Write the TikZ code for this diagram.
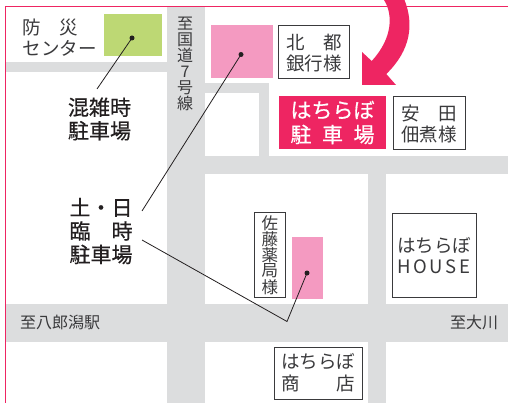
\documentclass[tikz,border=0pt]{standalone}
\usepackage{fontspec}
\setmainfont{Noto Sans CJK JP}
\newfontfamily\heavyf[FakeBold=0.6]{Noto Sans CJK JP}
\definecolor{roadc}{HTML}{DCDDDE}
\definecolor{hotc}{HTML}{EE2562}
\definecolor{lotc}{HTML}{F49AC1}
\definecolor{greenc}{HTML}{BDD874}
\definecolor{inkc}{HTML}{3A3A3C}
\definecolor{blackc}{HTML}{231F20}
\newcommand{\spr}[2]{\makebox[#1pt][s]{#2}}
\tikzset{
  x=1pt,y=-1pt,
  road/.style={fill=roadc,draw=none},
  lot/.style={fill=lotc,draw=none},
  shop/.style={draw=inkc,line width=0.8pt,fill=white,rectangle,inner sep=0pt},
  maptext/.style={text=inkc,inner sep=0pt,align=center,font=\fontsize{18.5}{21}\selectfont},
  bigtext/.style={text=blackc,inner sep=0pt,align=center,font=\heavyf\fontsize{21}{23.5}\selectfont},
  leader/.style={draw=blackc,line width=0.8pt},
  pin/.style={circle,fill=blackc,inner sep=0pt,minimum size=5pt}
}
\begin{document}
\begin{tikzpicture}
\useasboundingbox (0,0) rectangle (508,403);
\fill[white] (0,0) rectangle (508,403);
% roads
\fill[road] (167,7) rectangle (205,403);
\fill[road] (6,62) rectangle (167,72);
\fill[road] (205,83) rectangle (269,93);
\fill[road] (259,93) rectangle (269,156);
\fill[road] (205,156) rectangle (508,174);
\fill[road] (368,174) rectangle (386,403);
\fill[road] (6,304) rectangle (508,342);
% frame
\draw[hotc,line width=0.9pt] (508,6.5) -- (5.5,6.5) -- (5.5,403);
% lots
\fill[greenc] (104,14) rectangle (162,56);
\fill[lot] (211,25) rectangle (273,78);
\fill[lot] (292,237) rectangle (323,299);
% arrow
\fill[hotc] (384,0) .. controls (393,14) and (393,38) .. (371.7,61) -- (362,52) -- (362,85) -- (396,85) -- (386.3,74)
  .. controls (411,50) and (414,24) .. (404.5,0) -- cycle;
% shops
\node[shop,minimum width=71pt,minimum height=53pt] (kita) at (314,52) {};
\node[maptext] at (314,53) {\spr{56}{北\hfil 都}\\銀行様};
\node[fill=hotc,minimum width=107pt,minimum height=53pt,inner sep=0pt] (park) at (332.5,122.5) {};
\node[maptext,text=white,font=\heavyf\fontsize{21}{24.5}\selectfont] at (park.center) {\spr{84}{は\hfil ち\hfil ら\hfil ぼ}\\\spr{84}{駐\hfil 車\hfil 場}};
\node[shop,minimum width=72pt,minimum height=53pt] (yasuda) at (429,123) {};
\node[maptext] at (429,124) {\spr{56}{安\hfil 田}\\佃煮様};
\node[shop,minimum width=31.5pt,minimum height=85pt] (sato) at (269.8,255) {};
\node[maptext,font=\fontsize{16.5}{15}\selectfont] at (sato.center) {佐\\藤\\薬\\局\\様};
\node[shop,minimum width=84pt,minimum height=84.5pt] (house) at (434,255.3) {};
\node[maptext] at (434,256) {はちらぼ\\\spr{73}{H\hfil O\hfil U\hfil S\hfil E}};
\node[shop,minimum width=87.5pt,minimum height=51.5pt] (shoten) at (318.3,373.3) {};
\node[maptext,font=\fontsize{18.5}{22}\selectfont] at (318.3,372.5) {\spr{74}{はちらぼ}\\\spr{74}{商\hfil 店}};
% map labels
\node[maptext,anchor=west,align=left] (bosai) at (22.5,37.5) {\spr{55}{防\hfil 災}\\センター};
\node[maptext,font=\fontsize{16}{16}\selectfont] (route) at (185,64) {至\\国\\道\\7\\号\\線};
\node[maptext,font=\fontsize{16}{18}\selectfont] (hachi) at (60,322) {至八郎潟駅};
\node[maptext,font=\fontsize{16}{18}\selectfont] (okawa) at (474,322) {至大川};
% big labels
\node[bigtext] (konzatsu) at (99.5,119) {混雑時\\駐車場};
\node[bigtext] (rinji) at (101,231) {\spr{63}{土\hfil ・\hfil 日}\\\spr{63}{臨\hfil 時}\\駐車場};
% leaders
\node[pin] (pg) at (132,38) {};
\node[pin] (pa) at (241,54.5) {};
\node[pin] (pb) at (307,273) {};
\coordinate (endg) at (97,89);
\coordinate (enda) at (142,211);
\coordinate (endb) at (142,240);
\coordinate (bend) at (287,321.5);
\draw[leader] (pg.center) -- (endg);
\draw[leader] (pa.center) -- (enda);
\draw[leader] (endb) -- (bend) -- (pb.center);
\end{tikzpicture}
\end{document}
